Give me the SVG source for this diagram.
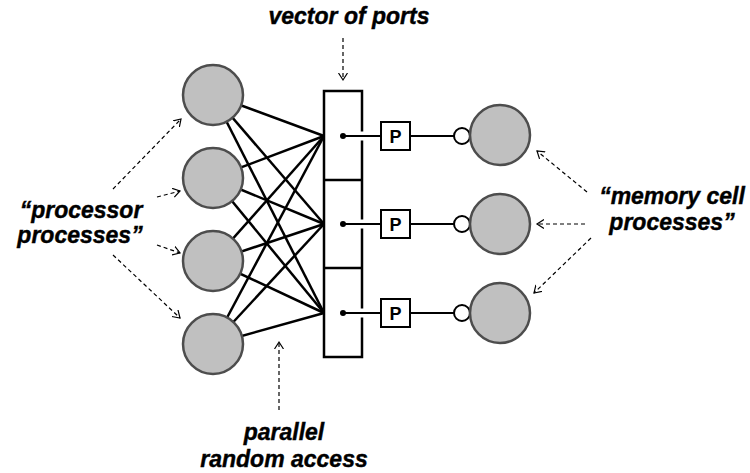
<svg xmlns="http://www.w3.org/2000/svg" width="750" height="473" viewBox="0 0 750 473">
<style>
.proc{fill:#c0c0c0;stroke:#4d4d4d;stroke-width:2.5}
.link{stroke:#000;stroke-width:2.5;fill:none}
.thin{stroke:#000;stroke-width:1.8;fill:none}
.dash{stroke:#000;stroke-width:1.2;fill:none;stroke-dasharray:4,3;marker-end:url(#open)}
.lbl{font-family:"Liberation Sans",Arial,sans-serif;font-weight:bold;font-style:italic;font-size:23px;fill:#000;stroke:#000;stroke-width:0.4;text-anchor:middle}
.p{font-family:"Liberation Sans",Arial,sans-serif;font-weight:bold;font-size:18px;text-anchor:middle}
</style>
<defs>
<marker id="open" markerUnits="userSpaceOnUse" markerWidth="12" markerHeight="12" refX="7" refY="5" orient="auto">
<path d="M0,0.5 L7,5 L0,9.5" fill="none" stroke="#000" stroke-width="1.2"/>
</marker>
</defs>
<g id="connectors">
<g class="link">
<line x1="213" y1="95" x2="324" y2="136"/><line x1="213" y1="95" x2="324" y2="224"/><line x1="213" y1="95" x2="324" y2="313"/>
<line x1="213" y1="178" x2="324" y2="136"/><line x1="213" y1="178" x2="324" y2="224"/><line x1="213" y1="178" x2="324" y2="313"/>
<line x1="213" y1="261" x2="324" y2="136"/><line x1="213" y1="261" x2="324" y2="224"/><line x1="213" y1="261" x2="324" y2="313"/>
<line x1="213" y1="344" x2="324" y2="136"/><line x1="213" y1="344" x2="324" y2="224"/><line x1="213" y1="344" x2="324" y2="313"/>
</g>
<path class="dash" d="M343,38 L343,80"/>
<path class="dash" d="M113,189 L181,119"/>
<path class="dash" d="M157,197 L180,191"/>
<path class="dash" d="M157,245 L180,253"/>
<path class="dash" d="M113,255 L180,318"/>
<path class="dash" d="M587,192 L537,151"/>
<path class="dash" d="M585,224 L537,224"/>
<path class="dash" d="M591,238 L534,293"/>
<path class="dash" d="M279,410 L279,342"/>
</g>
<g id="vector">
<rect x="324" y="91" width="38" height="266" fill="#fff" stroke="#000" stroke-width="2.5"/>
<line x1="324" y1="180" x2="362" y2="180" stroke="#000" stroke-width="2.5"/>
<line x1="324" y1="268" x2="362" y2="268" stroke="#000" stroke-width="2.5"/>
</g>
<g id="port1">
<line x1="357" y1="136" x2="368" y2="136" stroke="#fff" stroke-width="9"/>
<line class="thin" x1="343" y1="136" x2="381" y2="136"/>
<circle cx="343" cy="136" r="3" fill="#000"/>
<rect x="381" y="122" width="29" height="28" fill="#fff" stroke="#000" stroke-width="2"/>
<text class="p" x="395.5" y="142.5">P</text>
<line class="thin" x1="410" y1="136" x2="454" y2="136"/>
<circle cx="462" cy="136" r="8" fill="#fff" stroke="#000" stroke-width="2"/>
</g>
<g id="port2">
<line x1="357" y1="224" x2="368" y2="224" stroke="#fff" stroke-width="9"/>
<line class="thin" x1="343" y1="224" x2="381" y2="224"/>
<circle cx="343" cy="224" r="3" fill="#000"/>
<rect x="381" y="210" width="29" height="28" fill="#fff" stroke="#000" stroke-width="2"/>
<text class="p" x="395.5" y="230.5">P</text>
<line class="thin" x1="410" y1="224" x2="454" y2="224"/>
<circle cx="462" cy="224" r="8" fill="#fff" stroke="#000" stroke-width="2"/>
</g>
<g id="port3">
<line x1="357" y1="313" x2="368" y2="313" stroke="#fff" stroke-width="9"/>
<line class="thin" x1="343" y1="313" x2="381" y2="313"/>
<circle cx="343" cy="313" r="3" fill="#000"/>
<rect x="381" y="299" width="29" height="28" fill="#fff" stroke="#000" stroke-width="2"/>
<text class="p" x="395.5" y="319.5">P</text>
<line class="thin" x1="410" y1="313" x2="454" y2="313"/>
<circle cx="462" cy="313" r="8" fill="#fff" stroke="#000" stroke-width="2"/>
</g>
<g id="proc1"><circle class="proc" cx="213" cy="95" r="30"/></g>
<g id="proc2"><circle class="proc" cx="213" cy="178" r="30"/></g>
<g id="proc3"><circle class="proc" cx="213" cy="261" r="30"/></g>
<g id="proc4"><circle class="proc" cx="213" cy="344" r="30"/></g>
<g id="mem1"><circle class="proc" cx="500" cy="135" r="30"/></g>
<g id="mem2"><circle class="proc" cx="500" cy="224" r="30"/></g>
<g id="mem3"><circle class="proc" cx="500" cy="313" r="30"/></g>
<g id="labels">
<text class="lbl" x="349" y="24">vector of ports</text>
<text class="lbl" x="81" y="218">“processor</text>
<text class="lbl" x="80" y="243">processes”</text>
<text class="lbl" x="672" y="204">“memory cell</text>
<text class="lbl" x="672" y="230">processes”</text>
<text class="lbl" x="284" y="440">parallel</text>
<text class="lbl" x="284" y="467">random access</text>
</g>
</svg>
